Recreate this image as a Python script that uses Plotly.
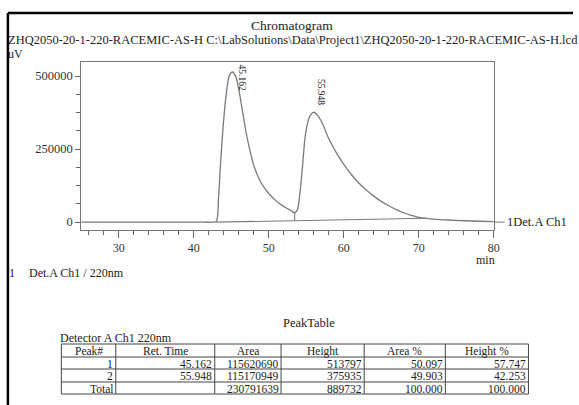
import plotly.graph_objects as go

# ---------------- data ----------------
time_min = [25.0, 30.0, 35.0, 40.0, 42.5, 43.0, 43.3, 43.6, 44.1, 44.5, 44.8, 45.162,
            45.6, 46.0, 46.5, 47.0, 47.5, 48.0, 48.5, 49.0, 50.0, 50.8, 51.5, 52.5,
            53.0, 53.45, 53.8, 54.2, 54.5, 54.9, 55.4, 55.948, 56.5, 57.2, 58.0,
            59.0, 60.0, 61.0, 62.0, 63.0, 64.0, 65.0, 66.0, 67.0, 68.0, 69.0, 70.0,
            71.0, 72.0, 74.0, 76.0, 78.0, 80.0]
signal_uv = [0, 0, 0, 0, 0, 2000, 80000, 210000, 380000, 470000, 505000, 513797,
             498000, 455000, 380000, 305000, 245000, 195000, 160000, 134000, 98000, 77000, 62000, 46000,
             39000, 32000, 41000, 110000, 190000, 300000, 358000, 375935, 366000, 335000, 285000,
             238000, 198000, 163000, 134000, 110000, 89000, 71000, 56000, 43000, 32000, 23000, 16500,
             13000, 10500, 7200, 4700, 2900, 1500]

baseline_time = [43.0, 71.0]
baseline_uv = [0, 13000]
drop_time = [53.45, 53.45]
drop_uv = [32000, 5000]

table_header = ["Peak#", "Ret. Time", "Area", "Height", "Area %", "Height %"]
peak_no = ["1", "2", "Total"]
ret_time = ["45.162", "55.948", ""]
area = ["115620690", "115170949", "230791639"]
height = ["513797", "375935", "889732"]
area_pct = ["50.097", "49.903", "100.000"]
height_pct = ["57.747", "42.253", "100.000"]
peak_times = [45.162, 55.948]
peak_heights = [513797, 375935]
peak_labels = ["45.162", "55.948"]

x_ticks = [30, 40, 50, 60, 70, 80]
y_ticks = [0, 250000, 500000]

W, H = 579, 405
SERIF = "Liberation Serif"
TXT = "#222222"
FS = 12.5


def px(x):
    return x / W


def py(y):
    return 1 - y / H


fig = go.Figure()

fig.add_trace(go.Scatter(x=time_min, y=signal_uv, mode="lines", line_shape="spline",
                         line=dict(color="#7a7a7a", width=1.3), hoverinfo="skip",
                         showlegend=False))
fig.add_trace(go.Scatter(x=baseline_time, y=baseline_uv, mode="lines",
                         line=dict(color="#7a7a7a", width=1.1), showlegend=False))
fig.add_trace(go.Scatter(x=drop_time, y=drop_uv, mode="lines",
                         line=dict(color="#7a7a7a", width=1.1), showlegend=False))

fig.update_layout(
    width=W, height=H, margin=dict(l=0, r=0, t=0, b=0),
    paper_bgcolor="white", plot_bgcolor="white",
    font=dict(family=SERIF, size=12, color=TXT),
    xaxis=dict(domain=[px(82), px(499)], range=[25, 80], tickvals=x_ticks,
               ticks="outside", ticklen=7, tickcolor="#666", showgrid=False, zeroline=False,
               showline=True, linecolor="#777", linewidth=1, mirror=True,
               minor=dict(dtick=2, tick0=0, ticks="outside", ticklen=4, tickcolor="#666", showgrid=False),
               tickfont=dict(family=SERIF, size=12, color="#333")),
    yaxis=dict(domain=[py(230), py(62)], range=[-27000, 548000], tickvals=y_ticks,
               ticktext=[str(v) for v in y_ticks],
               ticks="outside", ticklen=5, tickcolor="#666", showgrid=False, zeroline=False,
               showline=True, linecolor="#777", linewidth=1, mirror=True,
               minor=dict(dtick=62500, tick0=0, ticks="outside", ticklen=4, tickcolor="#666", showgrid=False),
               tickfont=dict(family=SERIF, size=12.5, color="#333")),
)

ann = []
for t, h, lab, xs, ys in zip(peak_times, peak_heights, peak_labels, [10, 7], [-6, 20]):
    ann.append(dict(x=t, y=h, xref="x", yref="y", text=lab, showarrow=False, textangle=90,
                    xshift=xs, yshift=ys, font=dict(family=SERIF, size=9.5, color=TXT)))


def paper_text(x, y, text, anchor="left", size=FS):
    ann.append(dict(x=px(x), y=py(y), xref="paper", yref="paper", text=text, showarrow=False,
                    xanchor=anchor, yanchor="middle", borderpad=0,
                    font=dict(family=SERIF, size=size, color=TXT)))


paper_text(295, 25, "Chromatogram", "center", 13.5)
paper_text(7, 40, "ZHQ2050-20-1-220-RACEMIC-AS-H C:\\LabSolutions\\Data\\Project1\\ZHQ2050-20-1-220-RACEMIC-AS-H.lcd")
paper_text(7, 54, "uV", size=12)
paper_text(501, 260, "min", "right", 12)
paper_text(511, 222, "1Det.A Ch1")
paper_text(8, 273, "1", size=12)
paper_text(28, 273, "Det.A Ch1 / 220nm", size=12)
paper_text(312, 323, "PeakTable", "center")
paper_text(60, 338, "Detector A Ch1 220nm", size=12)

# ---------------- peak table (shapes + text) ----------------
col_edges = [62, 117, 217, 284, 368, 450, 534]
row_edges = [344, 357, 369, 382, 394]
table_cols = [peak_no, ret_time, area, height, area_pct, height_pct]
shapes = []
for xe in col_edges:
    shapes.append(dict(type="line", xref="paper", yref="paper", x0=px(xe), x1=px(xe),
                       y0=py(row_edges[0]), y1=py(row_edges[-1]), line=dict(color="#444", width=1)))
for ye in row_edges:
    shapes.append(dict(type="line", xref="paper", yref="paper", x0=px(col_edges[0]), x1=px(col_edges[-1]),
                       y0=py(ye), y1=py(ye), line=dict(color="#444", width=1)))
for ci, head in enumerate(table_header):
    xc = (col_edges[ci] + col_edges[ci + 1]) / 2
    yc = (row_edges[0] + row_edges[1]) / 2 + 0.5
    paper_text(xc, yc, head, "center", 11.5)
    for ri, val in enumerate(table_cols[ci]):
        if val:
            yc = (row_edges[ri + 1] + row_edges[ri + 2]) / 2 + 0.5
            paper_text(col_edges[ci + 1] - 1.5, yc, val, "right", 11.5)

fig.update_layout(annotations=ann)

shapes += [
    dict(type="line", xref="paper", yref="paper", x0=px(8), x1=1.0, y0=py(13), y1=py(13),
         line=dict(color="black", width=2.5)),
    dict(type="line", xref="paper", yref="paper", x0=px(8), x1=px(8), y0=py(13), y1=0,
         line=dict(color="black", width=2.5)),
    dict(type="line", xref="paper", yref="y", x0=px(499), x1=px(510), y0=0, y1=0,
         line=dict(color="#777", width=1)),
]
fig.update_layout(shapes=shapes)

fig.write_html("out.html")
